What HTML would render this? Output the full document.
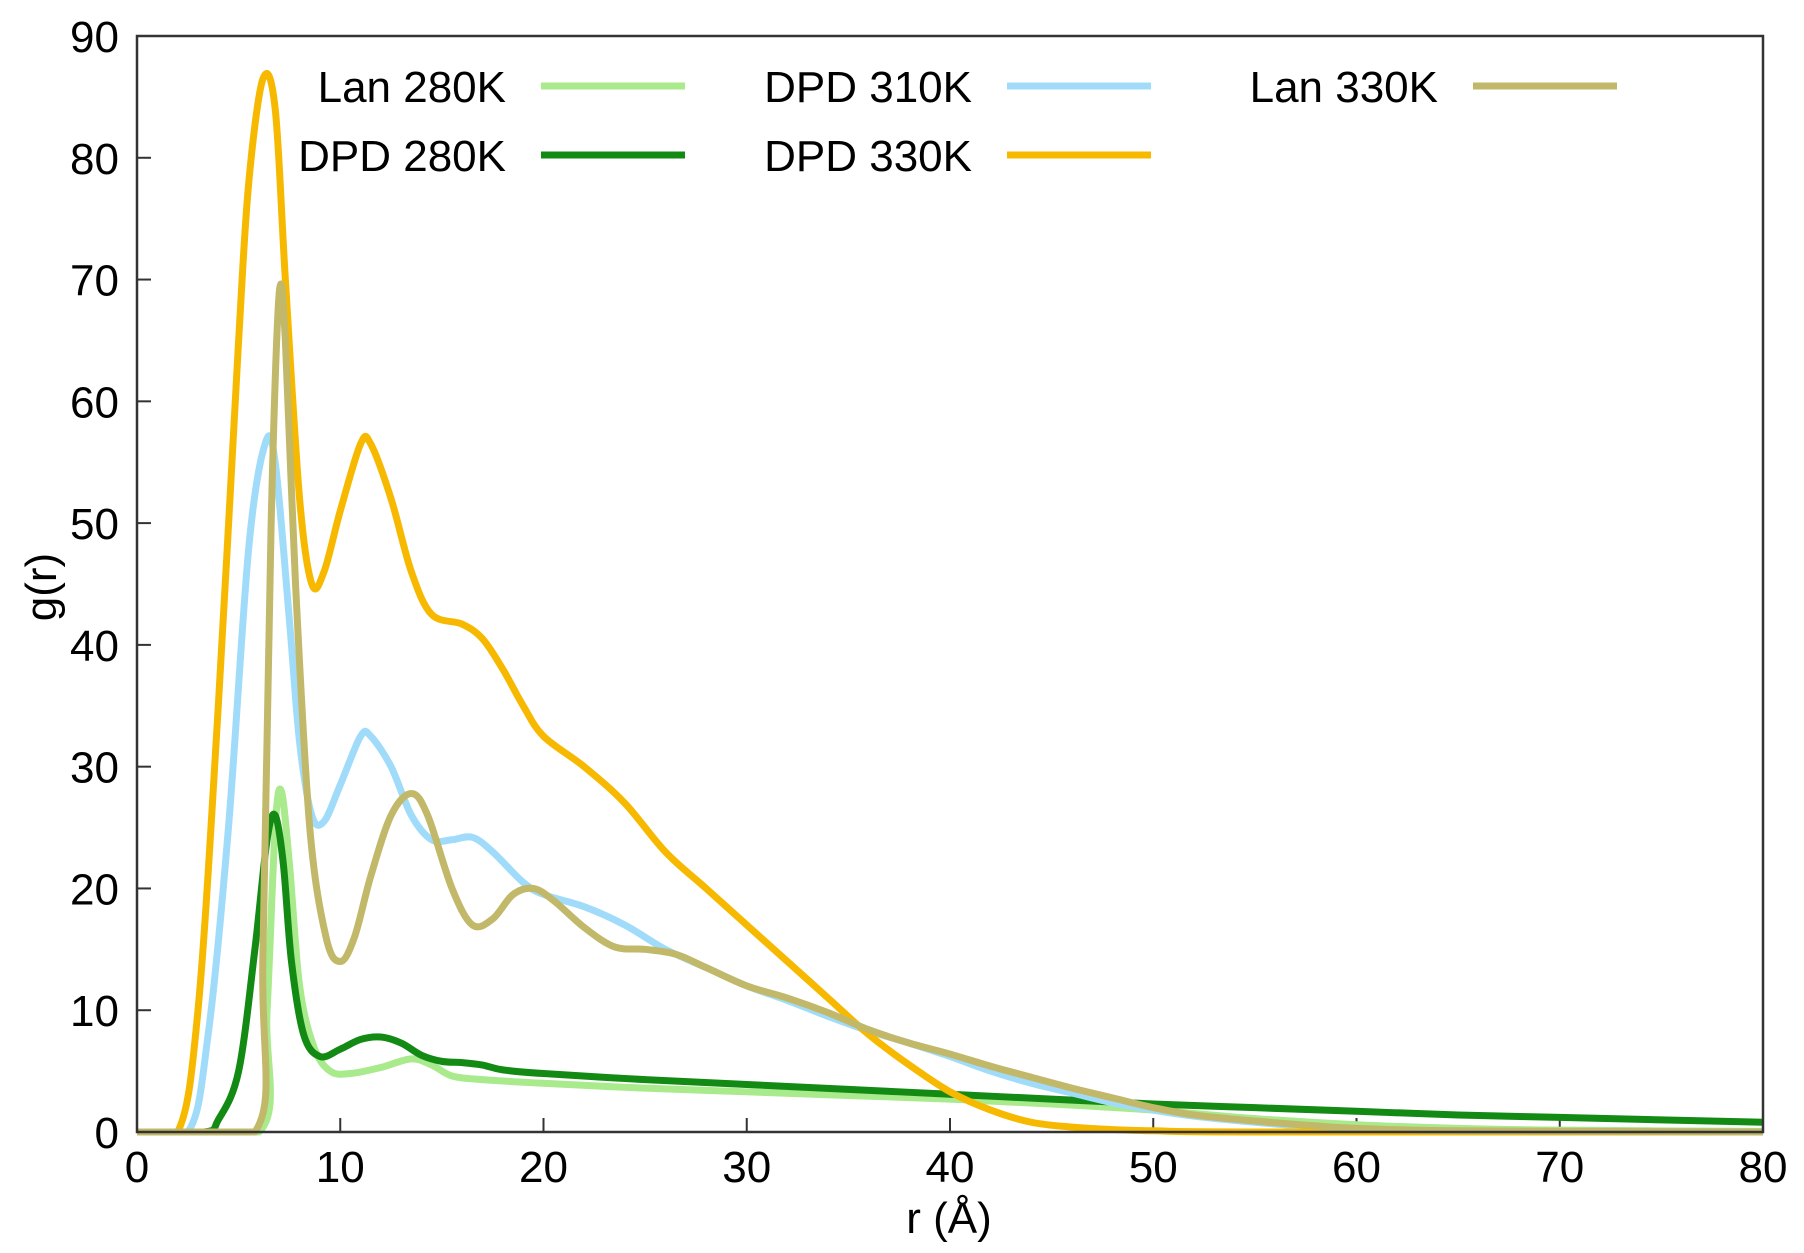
<!DOCTYPE html>
<html><head><meta charset="utf-8"><style>
html,body{margin:0;padding:0;background:#fff;}
svg{display:block;font-family:"Liberation Sans",sans-serif;}
</style></head><body>
<svg id="chart" width="1804" height="1253" viewBox="0 0 1804 1253" xmlns="http://www.w3.org/2000/svg">
<g id="axes"></g>
<g id="series"></g>
<g id="legend"></g>
<rect x="137" y="36" width="1626" height="1096" fill="none" stroke="#333" stroke-width="2.5"/>
<text x="0" y="0" transform="translate(56,587) rotate(-90)" font-size="44" text-anchor="middle">g(r)</text>
<text x="949" y="1233" font-size="44" text-anchor="middle">r (Å)</text>
</svg>
<script>
const xTicks = [0,10,20,30,40,50,60,70,80];
const yTicks = [0,10,20,30,40,50,60,70,80,90];
const seriesNames = ["Lan 280K","DPD 280K","DPD 310K","DPD 330K","Lan 330K"];
const lan280R = [0,6,6.4,6.8,7.1,7.5,8,8.7,9.5,10.5,12,13.5,14.5,15.5,17,20,25,30,35,40,45,50,55,60,65,70,80];
const lan280G = [0,0,10,25,28,22,12,7,5,4.8,5.3,6,5.5,4.6,4.3,4,3.6,3.3,3,2.7,2.3,1.8,1.1,0.6,0.3,0.15,0.05];
const dpd280R = [0,3.3,4,5,5.8,6.4,6.8,7.2,7.6,8.2,9,10,11,12,13,14,15,16,17,18,20,25,30,35,40,45,50,55,60,65,70,75,80];
const dpd280G = [0,0,1,5,15,24,26,22,14,8,6.2,6.8,7.6,7.8,7.3,6.3,5.8,5.7,5.5,5.1,4.8,4.3,3.9,3.5,3.1,2.7,2.3,2,1.7,1.4,1.2,1,0.8];
const dpd310R = [0,2.5,3.5,4.5,5.5,6.3,6.8,7.5,8,8.6,9.2,10,11,11.5,12.5,13.5,14.5,15.5,16.5,17.5,19,20,22,24,26,28,30,32,34,36,38,40,42,44,46,48,50,52,55,58,60,65,80];
const dpd310G = [0,0,8,25,48,56.5,55,42,32,26,25.5,28.5,32.5,32.5,30,26,24,24,24.2,23,20.5,19.5,18.5,17,15,13.5,12,10.8,9.5,8.3,7.3,6.2,5,4,3.2,2.4,1.8,1.3,0.8,0.4,0.2,0.05,0];
const dpd330R = [0,2,3,4,5,5.5,6.2,6.8,7.3,8,8.6,9.2,10,11,11.5,12.5,13.5,14.5,16,17,18,19,20,22,24,26,28,30,32,34,36,38,40,42,44,46,48,50,55,80];
const dpd330G = [0,0,10,35,65,78,86.5,84,70,52,45,46,51,56.5,56.5,52,46,42.5,41.7,40.5,38,35,32.5,30,27,23,20,17,14,11,8,5.5,3.3,1.8,0.8,0.4,0.2,0.1,0,0];
const lan330R = [0,5.8,6.2,6.6,7,7.3,7.8,8.5,9.3,10,10.7,11.5,12.5,13.5,14.3,15.5,16.5,17.5,18.5,19.5,20.5,22,23.5,25,26.5,28,30,32,34,36,38,40,42,44,46,48,50,52,55,58,60,65,80];
const lan330G = [0,0,15,50,69,65,45,25,16,14,16,21,26,27.8,26,20,17,17.5,19.5,20,19,16.8,15.2,15,14.6,13.5,12,11,9.8,8.4,7.3,6.4,5.4,4.5,3.6,2.8,2,1.4,0.9,0.5,0.3,0.1,0];

const X0=137,X1=1763,Y0=1132,Y1=36;
const xs=r=>X0+(r/80)*(X1-X0);
const ys=g=>Y0-(g/90)*(Y0-Y1);
const NS="http://www.w3.org/2000/svg";
function mk(tag,attrs,parent){const e=document.createElementNS(NS,tag);for(const k in attrs)e.setAttribute(k,attrs[k]);parent.appendChild(e);return e;}
const axes=document.getElementById('axes');
xTicks.forEach(v=>{
  const l=mk('line',{x1:xs(v),x2:xs(v),y1:Y0,y2:Y0-14,stroke:'#333','stroke-width':2},axes);
  
  
  const t=mk('text',{x:xs(v),y:1182,'font-size':44,'text-anchor':'middle'},axes);
  t.textContent=v;
  
  
});
yTicks.forEach(v=>{
  const l=mk('line',{x1:X0,x2:X0+14,y1:ys(v),y2:ys(v),stroke:'#333','stroke-width':2},axes);
  
  
  const t=mk('text',{x:119,y:ys(v)+16,'font-size':44,'text-anchor':'end'},axes);
  t.textContent=v;
  
  
});
function pathFor(R,G){
  const p=R.map((r,i)=>[xs(r),ys(G[i])]);
  let d='M'+p[0][0]+','+p[0][1];
  for(let i=0;i<p.length-1;i++){
    const p0=p[Math.max(0,i-1)],p1=p[i],p2=p[i+1],p3=p[Math.min(p.length-1,i+2)];
    let c1y=p1[1]+(p2[1]-p0[1])/6, c2y=p2[1]-(p3[1]-p1[1])/6;
    const lo=Math.min(p1[1],p2[1])-20, hi=Math.max(p1[1],p2[1])+20;
    c1y=Math.min(Math.max(c1y,lo),Math.min(hi,Y0));c2y=Math.min(Math.max(c2y,lo),Math.min(hi,Y0));
    d+=` C${p1[0]+(p2[0]-p0[0])/6},${c1y} ${p2[0]-(p3[0]-p1[0])/6},${c2y} ${p2[0]},${p2[1]}`;
  }
  return d;
}
const ser=document.getElementById('series');
const sets=[[lan280R,lan280G,'#a8ea8c','lan-280k-line'],[dpd280R,dpd280G,'#138a13','dpd-280k-line'],[dpd310R,dpd310G,'#a0dcfa','dpd-310k-line'],[dpd330R,dpd330G,'#f7b900','dpd-330k-line'],[lan330R,lan330G,'#c2b86a','lan-330k-line']];
sets.forEach(s=>{
  const e=mk('path',{d:pathFor(s[0],s[1]),fill:'none',stroke:s[2],'stroke-width':7,'stroke-linejoin':'round'},ser);
  
  
});
const leg=document.getElementById('legend');
const legPos=[[506,86,541],[506,155,541],[972,86,1007],[972,155,1007],[1438,86,1473]];
seriesNames.forEach((n,i)=>{
  const [tx,y,lx]=legPos[i];
  const t=mk('text',{x:tx,y:y+16,'font-size':44,'text-anchor':'end'},leg);
  t.textContent=n;
  
  
  const l=mk('line',{x1:lx,x2:lx+144,y1:y,y2:y,stroke:sets[i][2],'stroke-width':7},leg);
  
  
});
</script>
</body></html>
